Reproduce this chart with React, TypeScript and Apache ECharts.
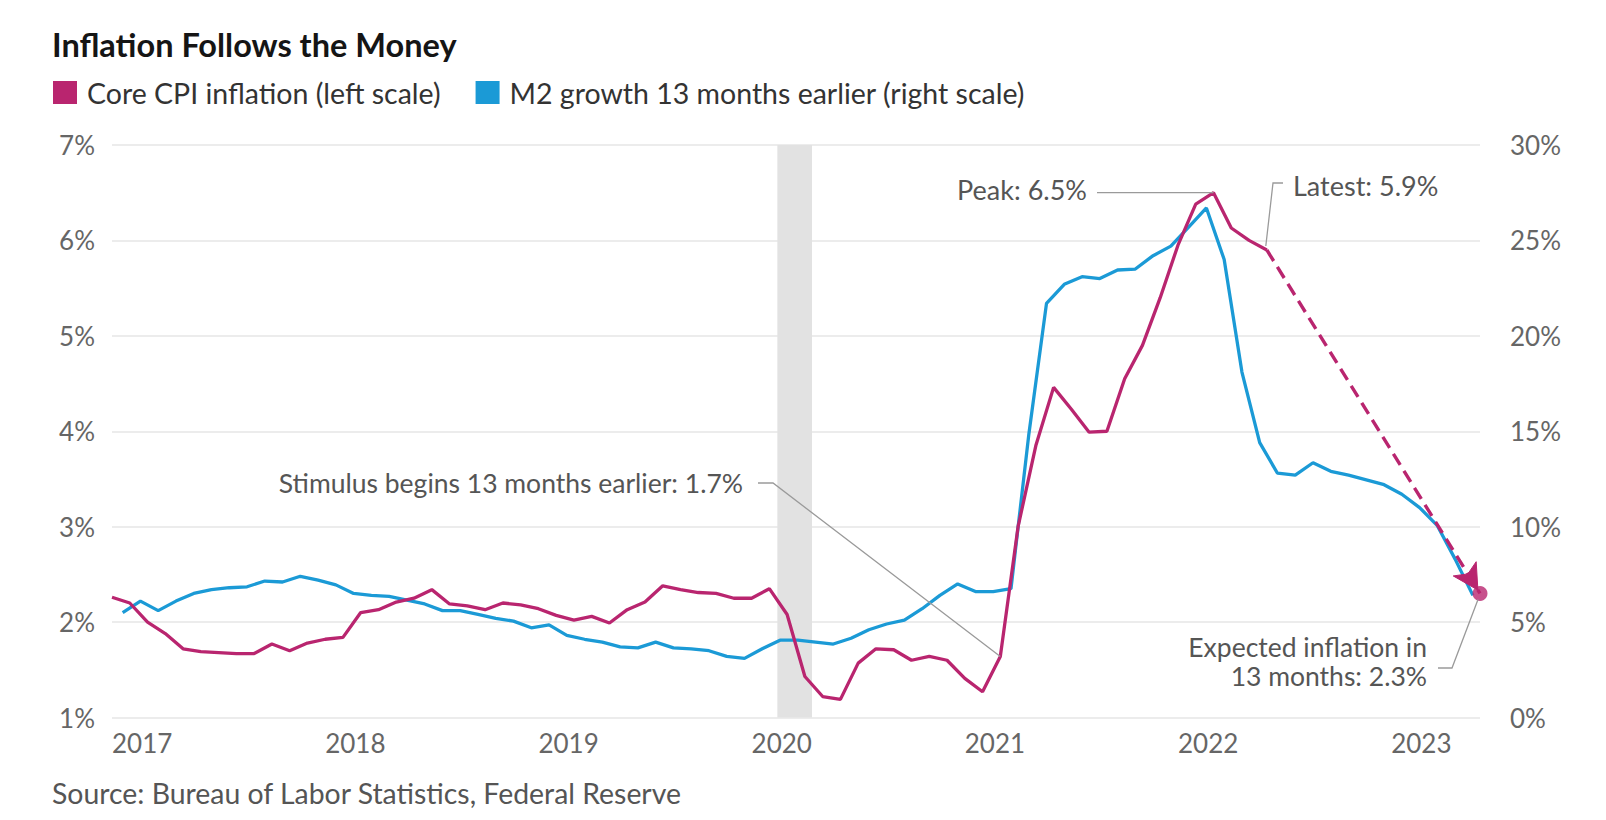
import React, { useEffect, useRef } from "react";
import * as echarts from "echarts";

const TITLE = "Inflation Follows the Money";
const SOURCE = "Source: Bureau of Labor Statistics, Federal Reserve";
const CPI_NAME = "Core CPI inflation (left scale)";
const M2_NAME = "M2 growth 13 months earlier (right scale)";

// x positions are month indexes: 0 = Jan 2017
const yearLabels = ["2017", "2018", "2019", "2020", "2021", "2022", "2023"];

// Core CPI inflation, y/y %, Jan 2017 .. Jun 2022
const coreCpi = [
  2.26, 2.2, 2.0, 1.88, 1.72, 1.69, 1.68, 1.67, 1.67, 1.77, 1.7, 1.78,
  1.82, 1.84, 2.1, 2.13, 2.21, 2.25, 2.34, 2.19, 2.17, 2.13, 2.2, 2.18,
  2.14, 2.07, 2.02, 2.06, 1.99, 2.13, 2.21, 2.38, 2.34, 2.31, 2.3, 2.25,
  2.25, 2.35, 2.08, 1.43, 1.22, 1.19, 1.57, 1.72, 1.71, 1.6, 1.64, 1.6,
  1.41, 1.27, 1.64, 3.0, 3.85, 4.46, 4.23, 3.99, 4.0, 4.55, 4.9, 5.4,
  5.95, 6.38, 6.5, 6.13, 6.0, 5.9,
];

// M2 growth (y/y %) shifted 13 months forward
const m2Growth = [
  5.5, 6.1, 5.6, 6.1, 6.5, 6.7, 6.8, 6.85, 7.15, 7.1, 7.4, 7.2,
  6.95, 6.5, 6.4, 6.35, 6.15, 5.95, 5.6, 5.6, 5.4, 5.2, 5.05, 4.7,
  4.85, 4.3, 4.1, 3.95, 3.7, 3.65, 3.95, 3.65, 3.6, 3.5, 3.2, 3.1,
  3.6, 4.05, 4.05, 3.95, 3.85, 4.15, 4.6, 4.9, 5.1, 5.7, 6.4, 7.0,
  6.6, 6.6, 6.75, 14.8, 21.7, 22.7, 23.1, 23.0, 23.45, 23.5, 24.2, 24.7,
  25.7, 26.7, 24.0, 18.1, 14.4, 12.8, 12.7, 13.35, 12.9, 12.7, 12.45, 12.2,
  11.7, 11.0, 10.05, 8.3, 6.4,
];
const M2_SHIFT = 0.6; // plotted mid-month

// Projection: latest reading -> expected inflation 13 months later
const forecastX = [65, 77];
const forecastY = [5.9, 2.3];

// Recession shading (Feb-Apr 2020)
const recession = [37.45, 39.4];

const stimulusIndex = 50;

const annotations = {
  stimulus: "Stimulus begins 13 months earlier: 1.7%",
  peak: "Peak: 6.5%",
  latest: "Latest: 5.9%",
  expected1: "Expected inflation in",
  expected2: "13 months: 2.3%",
};

const MAGENTA = "#b9256f";
const BLUE = "#1b9ad6";
const FONT = "Lato";
const LEADER = "#9a9a9a";
const ANN_COLOR = "#555555";
const AXIS_COLOR = "#666666";

const App = () => {
  const ref = useRef<HTMLDivElement>(null);

  useEffect(() => {
    const chart = echarts.init(ref.current!, null, { renderer: "svg" });
    const fx0 = forecastX[0];
    const fy0 = forecastY[0];
    const fx1 = forecastX[1];
    const fy1 = forecastY[1];

    const axisLabel = { fontSize: 26, color: AXIS_COLOR, fontFamily: FONT };

    const baseOption: any = {
      animation: false,
      backgroundColor: "#ffffff",
      textStyle: { fontFamily: FONT },
      title: [
        {
          text: TITLE,
          left: 47,
          top: 23,
          textStyle: { fontFamily: FONT, fontWeight: "bold", fontSize: 32.5, color: "#151515" },
        },
        {
          text: SOURCE,
          left: 47,
          top: 774,
          textStyle: { fontFamily: FONT, fontWeight: "normal", fontSize: 28.4, color: "#555" },
        },
      ],
      legend: {
        left: 48,
        top: 73,
        icon: "rect",
        itemWidth: 24,
        itemHeight: 23,
        itemGap: 35,
        selectedMode: false,
        data: [CPI_NAME, M2_NAME],
        textStyle: { fontFamily: FONT, fontSize: 28.5, color: "#333", padding: [0, 0, 0, 5] },
      },
      grid: { left: 112, right: 126, top: 145, bottom: 102.5 },
      xAxis: {
        type: "value",
        min: 0,
        max: 77,
        interval: 12,
        axisLine: { show: false },
        axisTick: { show: false },
        splitLine: { show: false },
        axisLabel: {
          ...axisLabel,
          align: "left",
          margin: 12,
          formatter: (v: number) => (v % 12 === 0 ? yearLabels[v / 12] ?? "" : ""),
        },
      },
      yAxis: [
        {
          type: "value",
          min: 1,
          max: 7,
          interval: 1,
          axisLine: { show: false },
          axisTick: { show: false },
          splitLine: { lineStyle: { color: "#e6e6e6", width: 1.5 } },
          axisLabel: { ...axisLabel, margin: 17, formatter: "{value}%" },
        },
        {
          type: "value",
          position: "right",
          min: 0,
          max: 30,
          interval: 5,
          axisLine: { show: false },
          axisTick: { show: false },
          splitLine: { show: false },
          axisLabel: { ...axisLabel, margin: 30, formatter: "{value}%" },
        },
      ],
      series: [
        {
          name: M2_NAME,
          type: "line",
          yAxisIndex: 1,
          z: 2,
          showSymbol: false,
          color: BLUE,
          lineStyle: { color: BLUE, width: 3.3 },
          data: m2Growth.map((v, i) => [i + M2_SHIFT, v]),
          markArea: {
            silent: true,
            itemStyle: { color: "#e2e2e2" },
            data: [[{ xAxis: recession[0] }, { xAxis: recession[1] }]],
          },
        },
        {
          name: CPI_NAME,
          type: "line",
          yAxisIndex: 0,
          z: 3,
          showSymbol: false,
          color: MAGENTA,
          lineStyle: { color: MAGENTA, width: 3.3 },
          data: coreCpi.map((v, i) => [i, v]),
        },
        {
          name: "Projection",
          type: "line",
          yAxisIndex: 0,
          z: 4,
          showSymbol: false,
          color: MAGENTA,
          lineStyle: { color: MAGENTA, width: 3.4, type: [13, 7] },
          data: [
            [fx0, fy0],
            [fx1, fy1],
          ],
        },
        {
          name: "Expected",
          type: "scatter",
          yAxisIndex: 0,
          z: 5,
          symbolSize: 15,
          itemStyle: { color: MAGENTA },
          data: [[fx1, fy1]],
        },
      ],
    };
    chart.setOption(baseOption);

    const toPx = (p: number[]) =>
      chart.convertToPixel({ xAxisIndex: 0, yAxisIndex: 0 }, p) as number[];

    // arrowhead along the projection, computed from the axis scales
    const p0 = toPx([fx0, fy0]);
    const p1 = toPx([fx1, fy1]);
    const len = Math.hypot(p1[0] - p0[0], p1[1] - p0[1]);
    const ux = (p1[0] - p0[0]) / len;
    const uy = (p1[1] - p0[1]) / len;
    const nx = -uy;
    const ny = ux;
    const tip = [p1[0] - 4 * ux, p1[1] - 4 * uy];
    const base = [tip[0] - 25 * ux, tip[1] - 25 * uy];
    const notch = [tip[0] - 19 * ux, tip[1] - 19 * uy];
    const barbA = [base[0] + 13.5 * nx, base[1] + 13.5 * ny];
    const barbB = [base[0] - 13.5 * nx, base[1] - 13.5 * ny];

    const peakVal = Math.max(...coreCpi);
    const peakIdx = coreCpi.indexOf(peakVal);
    const pp = toPx([peakIdx, peakVal]);
    const latestIdx = coreCpi.length - 1;
    const lp = toPx([latestIdx, coreCpi[latestIdx]]);
    const sp = toPx([stimulusIndex, coreCpi[stimulusIndex]]);
    const ep = p1;

    const txt = (text: string, x: number, y: number, align: string, size = 26.5) => ({
      type: "text",
      x,
      y,
      z: 10,
      silent: true,
      style: {
        text,
        fill: ANN_COLOR,
        fontFamily: FONT,
        fontSize: size,
        align,
        textAlign: align,
        verticalAlign: "middle",
        textVerticalAlign: "middle",
      },
    });
    const leader = (points: number[][]) => ({
      type: "polyline",
      z: 9,
      silent: true,
      shape: { points },
      style: { stroke: LEADER, lineWidth: 1.3, fill: "none" },
    });

    chart.setOption({
      graphic: [
        {
          type: "polygon",
          z: 8,
          silent: true,
          shape: { points: [tip, barbA, notch, barbB] },
          style: { fill: MAGENTA, stroke: MAGENTA, lineWidth: 1 },
        },
        txt(annotations.stimulus, 743, 483, "right"),
        leader([[758, 483], [773, 483], [sp[0], sp[1]]]),
        txt(annotations.peak, 1087, pp[1] - 3, "right", 27),
        leader([[1097, pp[1]], [pp[0], pp[1]]]),
        txt(annotations.latest, 1293, 185, "left", 27),
        leader([[1283, 183], [1273, 183], [lp[0] - 1, lp[1] - 4]]),
        txt(annotations.expected1, 1427, 647, "right"),
        txt(annotations.expected2, 1427, 676, "right"),
        leader([[1438, 668], [1452, 668], [ep[0] - 2, ep[1] + 6]]),
      ],
    });

    return () => chart.dispose();
  }, []);

  return (
    <div
      ref={ref}
      style={{ position: "absolute", left: 0, top: 0, width: 1606, height: 820, background: "#fff" }}
    />
  );
};

export default App;
